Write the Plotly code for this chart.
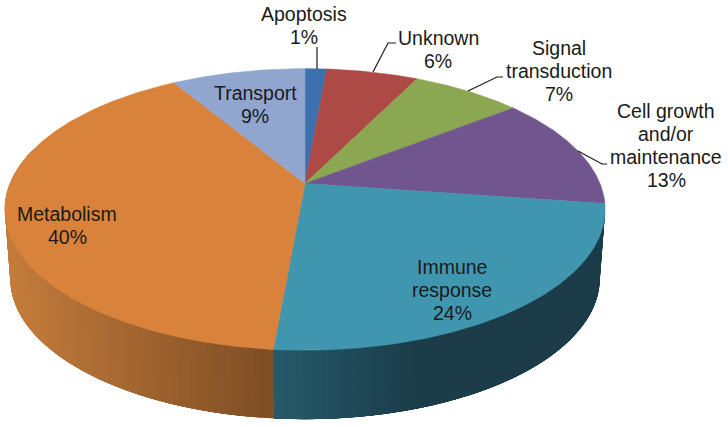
import numpy as np
import plotly.graph_objects as go

# ---- data ----
categories = ["Apoptosis", "Unknown", "Signal transduction", "Cell growth and/or maintenance",
              "Immune response", "Metabolism", "Transport"]
values = [1.4, 5.9, 7.1, 12.9, 24.1, 40.0, 8.6]
top_colors = ["#3E70AE", "#AD4A46", "#8BA752", "#71558F", "#4196AF", "#D9823B", "#90A6CF"]
label_lines = [["Apoptosis", "1%"], ["Unknown", "6%"], ["Signal", "transduction", "7%"],
               ["Cell growth", "and/or", "maintenance", "13%"], ["Immune", "response", "24%"],
               ["Metabolism", "40%"], ["Transport", "9%"]]
label_cx = [304, 438, 559, 666, 452, 67, 255]
label_y0 = [14, 38, 48, 111, 267, 214, 93]
label_step = 23
leaders = [[(317, 47), (317, 69)],
           [(396, 43), (388, 43), (373, 72)],
           [(503, 77), (497, 77), (468, 91)],
           [(607, 164), (602, 164), (578, 151)]]
# side-wall gradient (screen x start, x end, colour start, colour end) for visible slices
wall_grad = {4: (275, 425, (38, 91, 108), (27, 60, 72)),
             5: (12, 272, (196, 124, 60), (127, 78, 37))}

# ---- perspective geometry of the tilted disc ----
CX, CY = 305, 183.5
R, B, K = 295, 136, 0.184
DEPTH, BOTTOM_SCALE = 69, 0.982


def project(deg):
    t = np.radians(deg)
    x, y = np.sin(t), np.cos(t)
    d = 1 + K * y
    return CX + R * x / d, CY - B * y / d


def project_bottom(deg):
    x, y = project(deg)
    return CX + BOTTOM_SCALE * (x - CX), y + DEPTH


fig = go.Figure()
edges = np.concatenate([[0], np.cumsum(values)]) * 3.6

# side wall first, so the top face overlaps it; each band runs on past its own end so no seams show
for i, (a0, a1) in enumerate(zip(edges[:-1], edges[1:])):
    if i not in wall_grad:
        continue
    lo, hi = max(a0, 88), min(a1, 285)
    x0, x1, c0, c1 = wall_grad[i]
    steps = np.arange(lo, hi, 1.0)
    for s0 in steps:
        arc = np.linspace(s0, min(s0 + 6, hi), 6)
        xa, ya = project(arc)
        xb, yb = project_bottom(arc[::-1])
        f = float(np.clip((xa[0] - x0) / (x1 - x0), 0, 1))
        col = "rgb(%d,%d,%d)" % tuple(int(u + (v - u) * f) for u, v in zip(c0, c1))
        fig.add_trace(go.Scatter(x=np.concatenate([xa, xb, xa[:1]]), y=np.concatenate([ya, yb, ya[:1]]),
                                 mode="lines", fill="toself", fillcolor=col,
                                 line=dict(color=col, width=0), hoverinfo="skip", showlegend=False))

# top face
for i, (a0, a1) in enumerate(zip(edges[:-1], edges[1:])):
    ang = np.linspace(a0, a1, max(int(a1 - a0) * 2, 6))
    px, py = project(ang)
    xs = np.concatenate([[CX], px, [CX]])
    ys = np.concatenate([[CY], py, [CY]])
    fig.add_trace(go.Scatter(x=xs, y=ys, mode="lines", fill="toself", fillcolor=top_colors[i],
                             line=dict(color=top_colors[i], width=0.6), name=categories[i],
                             text=f"{categories[i]}: {values[i]}%", hoverinfo="text",
                             showlegend=False))

# leader lines
for pts in leaders:
    fig.add_trace(go.Scatter(x=[p[0] for p in pts], y=[p[1] for p in pts], mode="lines",
                             line=dict(color="#1a1a1a", width=1.2), hoverinfo="skip",
                             showlegend=False))

# labels
for lines, cx, y0 in zip(label_lines, label_cx, label_y0):
    for j, line in enumerate(lines):
        fig.add_annotation(x=cx, y=y0 + j * label_step, text=line, showarrow=False,
                           xanchor="center", yanchor="middle",
                           font=dict(family="Liberation Sans", size=19.5, color="#1a1a1a"))

fig.update_layout(width=728, height=427, margin=dict(l=0, r=0, t=0, b=0),
                  paper_bgcolor="white", plot_bgcolor="white", showlegend=False,
                  xaxis=dict(range=[0, 728], visible=False, fixedrange=True),
                  yaxis=dict(range=[427, 0], visible=False, fixedrange=True))
fig.write_html("out.html", config=dict(displayModeBar=False),
               post_script="document.body.style.margin='0';document.body.style.overflow='hidden';")
